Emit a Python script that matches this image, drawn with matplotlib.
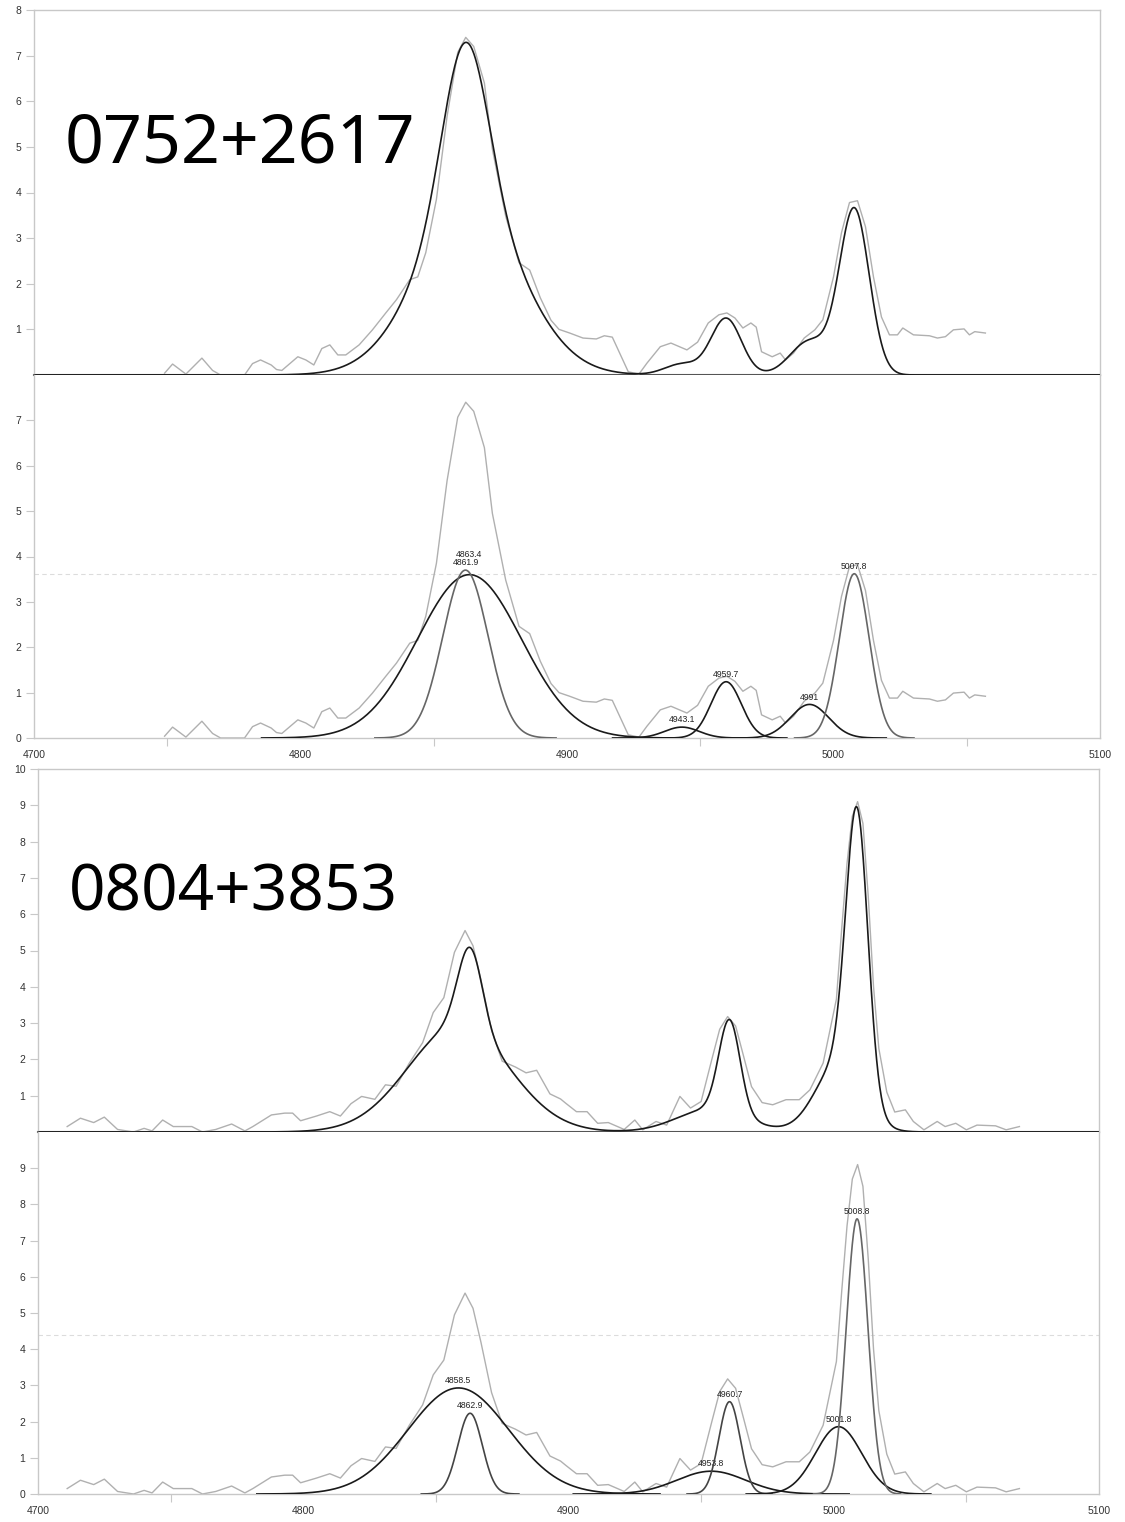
import numpy as np
import matplotlib
matplotlib.use("Agg")
import matplotlib.pyplot as plt

# ---------------- 0752+2617 ----------------
wave_a = [4749, 4752, 4757, 4763, 4767, 4770, 4779, 4782, 4785, 4789, 4791, 4793,
          4799, 4802, 4805, 4808, 4811, 4814, 4817, 4822, 4827, 4832, 4836, 4841,
          4844, 4847, 4851, 4855, 4859, 4862, 4865, 4869, 4872, 4877, 4882, 4886,
          4890, 4894, 4897, 4901, 4906, 4911, 4914, 4917, 4923, 4927, 4930, 4935,
          4939, 4945, 4949, 4953, 4957, 4960, 4963, 4966, 4969, 4971, 4973, 4977,
          4980, 4982, 4985, 4989, 4993, 4996, 5000, 5003, 5006, 5009, 5012, 5015,
          5018, 5021, 5024, 5026, 5030, 5036, 5039, 5042, 5045, 5049, 5051, 5053,
          5057]
flux_a = [0.04, 0.24, 0.02, 0.37, 0.10, 0.00, 0.00, 0.25, 0.33, 0.22, 0.12, 0.10,
          0.40, 0.33, 0.22, 0.58, 0.66, 0.44, 0.44, 0.66, 0.99, 1.36, 1.65, 2.09,
          2.15, 2.68, 3.85, 5.67, 7.07, 7.40, 7.20, 6.40, 4.95, 3.48, 2.46, 2.30,
          1.69, 1.20, 1.00, 0.92, 0.81, 0.79, 0.86, 0.83, 0.07, 0.02, 0.26, 0.62,
          0.70, 0.55, 0.72, 1.14, 1.32, 1.36, 1.25, 1.03, 1.14, 1.05, 0.51, 0.40,
          0.48, 0.33, 0.48, 0.81, 0.99, 1.21, 2.15, 3.12, 3.78, 3.82, 3.25, 2.15,
          1.27, 0.88, 0.88, 1.03, 0.88, 0.86, 0.81, 0.84, 0.99, 1.01, 0.88, 0.95,
          0.92]

# gaussian components: centre, peak height, sigma
cen_a = [4863.4, 4861.9, 4943.1, 4959.7, 4991.0, 5007.8]
amp_a = [3.60, 3.70, 0.24, 1.24, 0.74, 3.62]
sig_a = [19.5, 8.5, 6.5, 5.7, 7.2, 5.6]
labels_a = ["4863.4", "4861.9", "4943.1", "4959.7", "4991", "5007.8"]
level_a = 3.62

# ---------------- 0804+3853 ----------------
wave_b = [4711, 4716, 4721, 4725, 4730, 4736, 4740, 4743, 4747, 4751, 4758, 4762,
          4767, 4773, 4778, 4781, 4788, 4793, 4796, 4799, 4805, 4810, 4814, 4818,
          4822, 4827, 4831, 4835, 4840, 4845, 4849, 4853, 4857, 4861, 4864, 4867,
          4871, 4875, 4880, 4884, 4888, 4893, 4897, 4899, 4903, 4907, 4911, 4915,
          4921, 4925, 4928, 4933, 4937, 4942, 4946, 4950, 4954, 4957, 4960, 4963,
          4966, 4969, 4973, 4977, 4982, 4987, 4991, 4996, 5001, 5003, 5005, 5007,
          5009, 5011, 5013, 5015, 5017, 5020, 5023, 5027, 5030, 5034, 5039, 5042,
          5046, 5050, 5054, 5061, 5065, 5070]
flux_b = [0.15, 0.38, 0.26, 0.41, 0.07, 0.00, 0.10, 0.03, 0.33, 0.15, 0.15, 0.00,
          0.07, 0.22, 0.03, 0.15, 0.47, 0.52, 0.52, 0.31, 0.44, 0.56, 0.44, 0.78,
          0.98, 0.90, 1.30, 1.26, 1.90, 2.46, 3.29, 3.70, 4.95, 5.55, 5.13, 4.19,
          2.80, 1.95, 1.79, 1.63, 1.70, 1.05, 0.91, 0.79, 0.56, 0.56, 0.24, 0.26,
          0.07, 0.33, 0.06, 0.29, 0.19, 0.98, 0.66, 0.84, 1.99, 2.83, 3.18, 2.92,
          2.09, 1.25, 0.81, 0.75, 0.89, 0.89, 1.16, 1.90, 3.66, 5.60, 7.40, 8.70,
          9.10, 8.50, 6.50, 4.00, 2.30, 1.10, 0.55, 0.61, 0.29, 0.06, 0.29, 0.15,
          0.24, 0.06, 0.19, 0.17, 0.06, 0.15]

cen_b = [4858.5, 4862.9, 4953.8, 4960.7, 5001.8, 5008.8]
amp_b = [2.93, 2.23, 0.63, 2.55, 1.86, 7.60]
sig_b = [19.0, 4.6, 13.0, 4.0, 8.7, 4.1]
labels_b = ["4858.5", "4862.9", "4953.8", "4960.7", "5001.8", "5008.8"]
level_b = 4.4

FRAME = "#c8c8c8"
TXT = "#333333"
SPEC = "#b0b0b0"
FIT = "#1a1a1a"

plt.rcParams["font.family"] = ["Liberation Sans", "DejaVu Sans"]


def gauss(x, c, a, s):
    return a * np.exp(-0.5 * ((x - c) / s) ** 2)


def style_axis(ax, ymax, top):
    ax.set_xlim(4700, 5100)
    ax.set_ylim(0, ymax)
    for side in ["left", "right", "top", "bottom"]:
        ax.spines[side].set_color(FRAME)
        ax.spines[side].set_linewidth(1.0)
    ax.tick_params(axis="y", colors=FRAME, labelcolor=TXT, labelsize=7.5,
                   length=5.5, width=0.8, pad=3.5)
    if top:
        ax.set_yticks(range(1, ymax + 1))
        ax.set_xticks([])
        ax.spines["bottom"].set_color("#555555")
        ax.spines["bottom"].set_linewidth(1.5)
        ax.spines["bottom"].set_zorder(1)
    else:
        ax.set_yticks(range(0, ymax))
        ax.spines["top"].set_visible(False)
        ax.set_xticks(range(4700, 5101, 100))
        ax.set_xticks(range(4750, 5100, 100), minor=True)
        ax.tick_params(axis="x", which="major", length=0, pad=9,
                       labelsize=7.5, labelcolor=TXT)
        ax.tick_params(axis="x", which="minor", length=6, width=0.8,
                       colors=FRAME)


def draw_object(rect_top, rect_bot, wave, flux, cen, amp, sig, labels, colors,
                lift, level, ymax, name, name_xy, name_size):
    ax_t = fig.add_axes(rect_top)
    ax_b = fig.add_axes(rect_bot)
    style_axis(ax_t, ymax, True)
    style_axis(ax_b, ymax, False)

    # upper panel: observed spectrum and the summed fit
    grid = np.linspace(4700, 5100, 2000)
    total = np.zeros_like(grid)
    for c, a, s in zip(cen, amp, sig):
        total += gauss(grid, c, a, s)
    ax_t.plot(wave, flux, color=SPEC, lw=1.0, zorder=2)
    ax_t.plot(grid, total, color=FIT, lw=1.2, zorder=3)
    ax_t.text(name_xy[0], name_xy[1], name, fontsize=name_size,
              family="Noto Sans", color="black", va="baseline", ha="left")

    # lower panel: spectrum with the individual components
    ax_b.axhline(level, color="#dcdcdc", lw=0.8, ls=(0, (4, 3)), zorder=1)
    ax_b.plot(wave, flux, color=SPEC, lw=1.0, zorder=2)
    for c, a, s, lab, col, dy in zip(cen, amp, sig, labels, colors, lift):
        x = np.linspace(c - 4 * s, c + 4 * s, 300)
        ax_b.plot(x, gauss(x, c, a, s), color=col, lw=1.2, zorder=3)
        ax_b.annotate(lab, (c, a), xytext=(0, 2 + dy), textcoords="offset points",
                      ha="center", va="bottom", fontsize=6.2, color="#222222")


fig = plt.figure(figsize=(11.25, 15.22), dpi=100)
W, H = 1125.0, 1522.0


def rect(x0, x1, y0, y1):
    return [x0 / W, 1 - y1 / H, (x1 - x0) / W, (y1 - y0) / H]


draw_object(rect(34, 1100, 10, 375), rect(34, 1100, 375, 738),
            wave_a, flux_a, cen_a, amp_a, sig_a, labels_a,
            [FIT, "#666666", FIT, FIT, FIT, "#666666"],
            [9, 0, 0, 0, 0, 0], level_a, 8, "0752+2617", (4711.5, 4.66), 49)

draw_object(rect(38, 1099, 769, 1132), rect(38, 1099, 1132, 1494),
            wave_b, flux_b, cen_b, amp_b, sig_b, labels_b,
            [FIT, "#444444", FIT, "#444444", FIT, "#666666"],
            [0, 0, 0, 0, 0, 0], level_b, 10, "0804+3853", (4711.5, 6.09), 46)

fig.savefig("out.png", dpi=100, facecolor="white")
